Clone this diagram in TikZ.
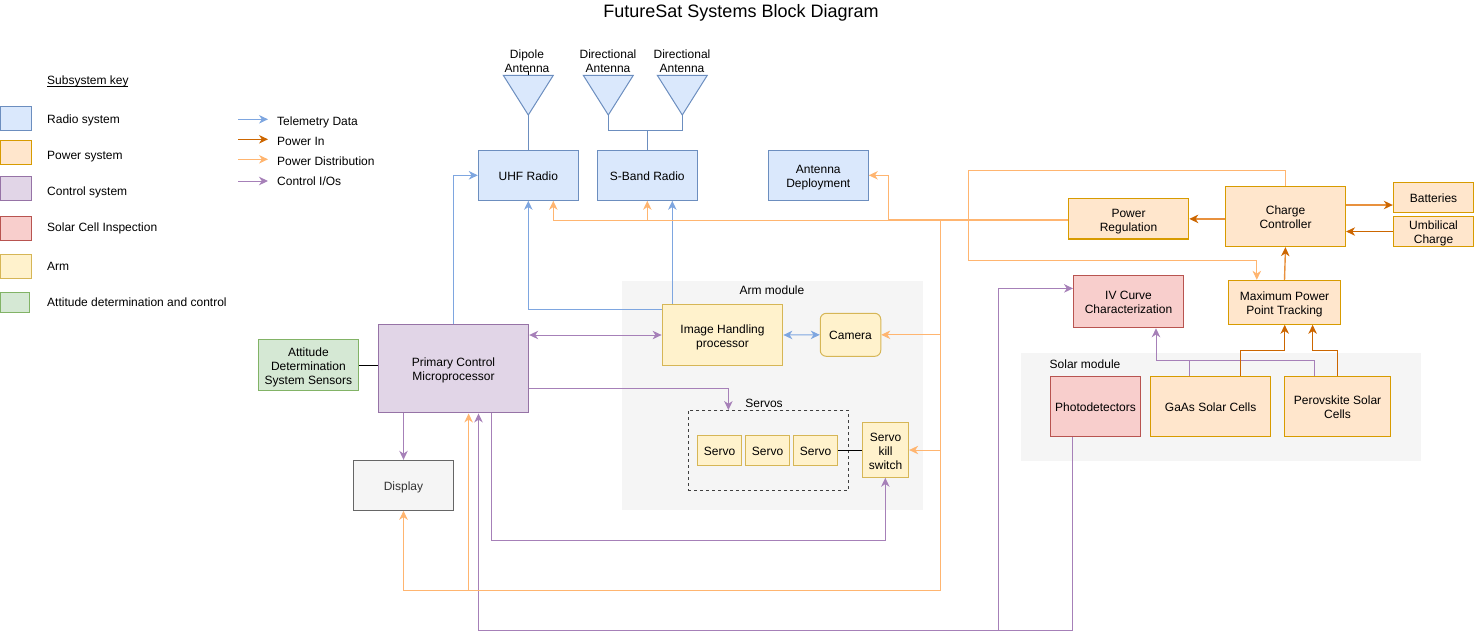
\documentclass[tikz,border=0pt]{standalone}
\usepackage{fontspec}
\setmainfont{Liberation Sans}
\usetikzlibrary{arrows.meta,calc}
\definecolor{radF}{HTML}{DAE8FC}\definecolor{radD}{HTML}{6C8EBF}
\definecolor{powF}{HTML}{FFE6CC}\definecolor{powD}{HTML}{D79B00}
\definecolor{ctlF}{HTML}{E1D5E7}\definecolor{ctlD}{HTML}{9673A6}
\definecolor{solF}{HTML}{F8CECC}\definecolor{solD}{HTML}{B85450}
\definecolor{armF}{HTML}{FFF2CC}\definecolor{armD}{HTML}{D6B656}
\definecolor{attF}{HTML}{D5E8D4}\definecolor{attD}{HTML}{82B366}
\definecolor{bgG}{HTML}{F5F5F5}\definecolor{dspD}{HTML}{666666}
\definecolor{tele}{HTML}{7EA6E0}\definecolor{pin}{HTML}{CC6600}
\definecolor{pdist}{HTML}{FFB570}\definecolor{cio}{HTML}{A680B8}
\tikzset{
 >={Stealth[length=9pt,width=8.5pt,inset=2.8pt]},
 every node/.style={font=\fontsize{12}{14}\selectfont,inner sep=0pt,align=center},
 box/.style={rectangle,line width=1pt,minimum width=#1},
 radiobox/.style={box=#1,draw=radD,fill=radF},
 powerbox/.style={box=#1,draw=powD,fill=powF},
 ctrlbox/.style={box=#1,draw=ctlD,fill=ctlF},
 solarbox/.style={box=#1,draw=solD,fill=solF},
 armbox/.style={box=#1,draw=armD,fill=armF},
 attbox/.style={box=#1,draw=attD,fill=attF},
 grayarea/.style={box=#1,fill=bgG},
 keytext/.style={anchor=west},
 telem/.style={draw=tele,line width=1pt,->},
 powin/.style={draw=pin,line width=1pt,->},
 powmix/.style={draw=pin!45!pdist,line width=1.4pt,-{Stealth[length=9pt,width=8.5pt,inset=2.8pt,color=pin]}},
 powdist/.style={draw=pdist,line width=1pt,->},
 ctlio/.style={draw=cio,line width=1pt,->},
 antenna/.style={draw=radD,fill=radF,line width=1pt,line join=miter},
 plainline/.style={draw=black,line width=1pt},
 radline/.style={draw=radD,line width=1pt},
 ctlline/.style={draw=cio,line width=1pt},
}
\newcommand{\topstrut}{\rule[-3pt]{0pt}{15.4pt}}
\newcommand{\botstrut}{\rule[-3pt]{0pt}{3pt}}
\newcommand{\lift}{\rule{0pt}{14pt}}
\newcommand{\liftb}{\rule{0pt}{12pt}}
\begin{document}
\begin{tikzpicture}[x=1pt,y=-1pt,every node/.append style={execute at begin node=\topstrut,execute at end node=\botstrut}]
\useasboundingbox (0,0) rectangle (1474,641);
% grey areas
\node[grayarea=300.4,minimum height=229.6] (armarea) at (772.5,395.5) {};
\node[grayarea=399.9,minimum height=107.4] (solararea) at (1220.6,407) {};
\node (armlabel) at (772,289.7) {Arm module};
\node (solarlabel) at (1085,363.5) {Solar module};
% title
\node[font=\fontsize{18}{22}\selectfont] (title) at (741,13) {FutureSat Systems Block Diagram};
% key
\node[keytext] (keytitle) at (47,80) {\rlap{\rule[-2pt]{81pt}{0.7pt}}Subsystem key};
\node[radiobox=31,minimum height=24] (k1) at (15.5,118) {};
\node[powerbox=31,minimum height=24] (k2) at (15.5,152.5) {};
\node[ctrlbox=31,minimum height=24] (k3) at (15.5,188) {};
\node[solarbox=31,minimum height=24] (k4) at (15.5,228) {};
\node[armbox=31,minimum height=24] (k5) at (15.5,266) {};
\node[attbox=29,minimum height=20] (k6) at (14.5,302) {};
\node[keytext] (kt1) at (47,119) {Radio system};
\node[keytext] (kt2) at (47,155) {Power system};
\node[keytext] (kt3) at (47,191) {Control system};
\node[keytext] (kt4) at (47,227) {Solar Cell Inspection};
\node[keytext] (kt5) at (47,266) {Arm};
\node[keytext] (kt6) at (47,302) {Attitude determination and control};
\node[keytext] (lt1) at (277,121) {Telemetry Data};
\node[keytext] (lt2) at (277,141) {Power In};
\node[keytext] (lt3) at (277,161) {Power Distribution};
\node[keytext] (lt4) at (277,181) {Control I/Os};
\coordinate (la1) at (238,119.3); \coordinate (la2) at (238,139.3);
\coordinate (la3) at (238,159.3); \coordinate (la4) at (238,181);
\draw[telem] (la1) -- ++(30,0);
\draw[powin] (la2) -- ++(30,0);
\draw[powdist] (la3) -- ++(30,0);
\draw[ctlio] (la4) -- ++(30,0);
% antennas
\coordinate (dipT) at (528.3,75.3); \coordinate (dipB) at (528.3,115);
\coordinate (d1T) at (608.3,75.3); \coordinate (d1B) at (608.3,115);
\coordinate (d2T) at (682.3,75.3); \coordinate (d2B) at (682.3,115);
\draw[antenna] ($(dipT)+(-25,0)$) -- ($(dipT)+(25,0)$) -- (dipB) -- cycle;
\draw[antenna] ($(d1T)+(-25,0)$) -- ($(d1T)+(25,0)$) -- (d1B) -- cycle;
\draw[antenna] ($(d2T)+(-25,0)$) -- ($(d2T)+(25,0)$) -- (d2B) -- cycle;
\node (dipL) at (527,60) {\lift Dipole\\Antenna};
\node (d1L) at (608,60) {\lift Directional\\Antenna};
\node (d2L) at (682,60) {\lift Directional\\Antenna};
% radios
\node[radiobox=100,minimum height=50] (uhf) at (528.3,175.3) {UHF Radio};
\node[radiobox=100,minimum height=50] (sband) at (647.3,175.3) {S-Band Radio};
\node[radiobox=100,minimum height=50] (antdep) at (818.3,175.3) {\lift Antenna\\Deployment};
% control
\node[ctrlbox=150.4,minimum height=88.5] (prim) at (453.5,368.7) {\liftb Primary Control\\Microprocessor};
\node[attbox=100.8,minimum height=50.3] (att) at (308.4,365.1) {\lift Attitude\\Determination\\System Sensors};
\node[box=100.3,draw=dspD,fill=bgG,minimum height=50,text=black!80] (disp) at (403.5,485.3) {Display};
% arm
\node[armbox=120.4,minimum height=60.6,line width=1.4pt] (img) at (722.5,335) {\lift Image Handling\\processor};
\node[armbox=60.5,minimum height=43,rounded corners=6pt] (cam) at (850.5,334.8) {Camera};
\node[box=160.3,draw=black!75,dashed,line width=.8pt,minimum height=80.3] (servos) at (768.5,450.2) {};
\node (servolabel) at (764,402.7) {Servos};
\node[armbox=44.4,minimum height=30.4] (s1) at (719.6,450.5) {Servo};
\node[armbox=44.4,minimum height=30.4] (s2) at (767.5,450.5) {Servo};
\node[armbox=44,minimum height=30.4] (s3) at (815.5,450.5) {Servo};
\node[armbox=46.3,minimum height=55] (kill) at (885.5,449.8) {\lift Servo\\kill\\switch};
% power
\node[powerbox=120.2,minimum height=40.3,line width=1.4pt] (preg) at (1128.5,218.9) {\lift Power\\Regulation};
\node[powerbox=120.2,minimum height=60.4] (cc) at (1285.5,216.5) {\liftb Charge\\Controller};
\node[powerbox=80.4,minimum height=30] (batt) at (1433.5,197.3) {Batteries};
\node[powerbox=80.4,minimum height=30.4] (umb) at (1433.5,231.5) {\liftb Umbilical\\Charge};
\node[powerbox=112,minimum height=44] (mppt) at (1284.5,302.3) {\lift Maximum Power\\Point Tracking};
\node[solarbox=110,minimum height=52.7] (iv) at (1128.5,301.4) {\lift IV Curve\\Characterization};
\node[solarbox=90.2,minimum height=60.4] (photo) at (1095.5,406.5) {Photodetectors};
\node[powerbox=120.2,minimum height=60.4] (gaas) at (1210.6,406.5) {GaAs Solar Cells};
\node[powerbox=106.3,minimum height=60.4] (perov) at (1337.5,406.5) {\liftb Perovskite Solar\\Cells};
% antenna connectors
\draw[plainline] (dipT) -- ++(0,-4);
\draw[radline] (dipB) -- (uhf.north);
\draw[radline] (d1B) |- (647.3,130.3) -- (sband.north);
\draw[radline] (d2B) |- (647.3,130.3);
% telemetry
\draw[telem] ([xshift=-0.2pt]prim.north) |- (uhf.west);
\draw[telem] ([yshift=-5pt]img.north west) -| (uhf.south);
\draw[telem] ([xshift=25pt]sband.south |- img.north) -- ([xshift=25pt]sband.south);
\draw[telem,<->] (img.east) -- (cam.west);
% control
\draw[ctlio,<->] (prim.east |- img) -- (img.west);
\draw[ctlio] ([yshift=-20pt]prim.east) -| (728.4,410);
\draw[ctlio] (prim.south -| disp.north) -- (disp.north);
\draw[ctlio] ([xshift=37.7pt]prim.south) |- (885.3,540.3) -- (kill.south -| 885.3,0);
\draw[ctlio] (photo.south -| 1072.8,0) |- (478.5,630.3) -- ([xshift=25pt]prim.south);
\draw[ctlio] (998.6,630.3) |- ([yshift=13pt]iv.west);
\draw[ctlline] (gaas.north -| 1189.7,0) |- (1156,360.7);
\draw[ctlio] (perov.north -| 1314.6,0) |- (1156,360.7) -- (iv.south -| 1156,0);
% black links
\draw[plainline] (att.east) -- (prim.west |- att);
\draw[plainline] (s3.east) -- (kill.west |- s3);
% power in
\draw[powin] (umb.west) -- (cc.east |- umb);
\draw[powmix] (cc.east |- 0,205) -- (batt.west |- 0,205);
\draw[powmix] (cc.west |- preg) -- (preg.east);
\draw[powmix] (mppt.north) -- (cc.south);
\draw[powin] (gaas.north -| 1240.8,0) |- (1284.7,350.3) -- (mppt.south -| 1284.7,0);
\draw[powin] (perov.north) |- (1312.6,350.3) -- (mppt.south -| 1312.6,0);
% power distribution
\draw[powdist] (preg.west |- 0,220) -| ([xshift=25pt]uhf.south);
\draw[draw=pdist,line width=1.8pt] (preg.west |- 0,220) -- (888.3,220);
\draw[powdist] (sband.south |- 0,220) -- (sband.south);
\draw[powdist] (888.3,220) |- (antdep.east);
\draw[powdist] (940.7,220) |- (403.5,590) -- (disp.south);
\draw[powdist] (468.6,590) -- (prim.south -| 468.6,0);
\draw[powdist] (940.7,334.8) -- (cam.east);
\draw[powdist] (940.7,450) -- (kill.east |- 0,450);
\draw[powdist] ([xshift=0.2pt]cc.north) |- (968.3,170.3) |- (1256.8,260.3) -- (mppt.north -| 1256.8,0);
\end{tikzpicture}
\end{document}
